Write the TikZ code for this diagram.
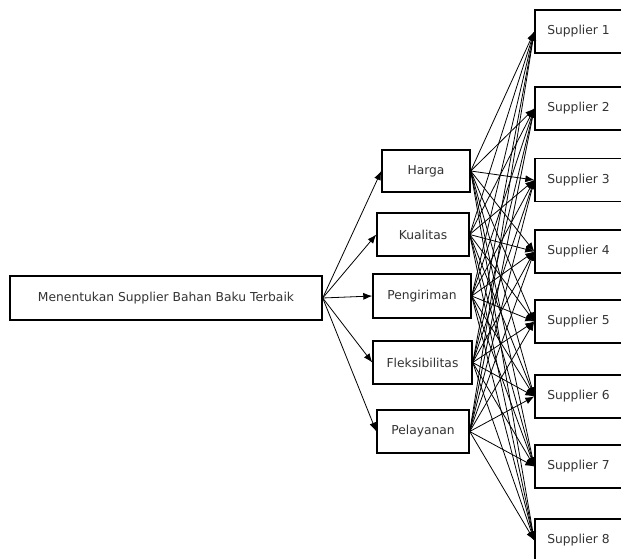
\documentclass[tikz,border=0pt]{standalone}
\usepackage{fontspec}
\setmainfont{DejaVu Sans}
\usetikzlibrary{arrows.meta}
\definecolor{txt}{HTML}{333333}
\tikzset{
  box/.style={draw=black, line width=1.4pt, fill=white, text=txt, font=\fontsize{12.3}{14}\selectfont, inner sep=0pt, anchor=center},
  crit/.style={box, minimum height=43pt},
  supp/.style={box, minimum height=43pt, minimum width=87pt},
  arr/.style={-{Latex[length=9pt,width=7pt]}, line width=0.8pt, black},
}
\begin{document}
\begin{tikzpicture}[x=1pt,y=-1pt]
\useasboundingbox (0,0) rectangle (621,559);
\clip (0,0) rectangle (621,559);
\node[box, minimum width=312pt, minimum height=44pt] (m) at (166,298) {Menentukan Supplier Bahan Baku Terbaik};
\node[crit, minimum width=88pt, minimum height=42pt] (c1) at (426,171) {Harga};
\node[crit, minimum width=92pt] (c2) at (423,234.5) {Kualitas};
\node[crit, minimum width=98pt, minimum height=44pt] (c3) at (422,296) {Pengiriman};
\node[crit, minimum width=99pt] (c4) at (422.5,362.5) {Fleksibilitas};
\node[crit, minimum width=92pt] (c5) at (423,431.5) {Pelayanan};
\node[supp] (s1) at (578.5,31.5) {Supplier 1};
\node[supp] (s2) at (578.5,108.5) {Supplier 2};
\node[supp] (s3) at (578.5,180) {Supplier 3};
\node[supp] (s4) at (578.5,251.5) {Supplier 4};
\node[supp] (s5) at (578.5,321.5) {Supplier 5};
\node[supp] (s6) at (578.5,396.5) {Supplier 6};
\node[supp] (s7) at (578.5,466.5) {Supplier 7};
\node[supp] (s8) at (578.5,540.5) {Supplier 8};
\foreach \c in {c1,c2,c3,c4,c5}{
  \draw[arr] (m.east) -- (\c.west);
  \foreach \s in {s1,s2,s3,s4,s5,s6,s7,s8}{
    \draw[arr] (\c.east) -- (\s.west);
  }
}
\end{tikzpicture}
\end{document}
